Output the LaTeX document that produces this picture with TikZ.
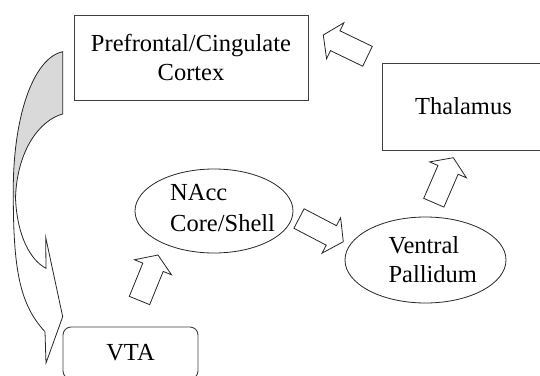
\documentclass[tikz,border=0pt]{standalone}
\usepackage{fontspec}
\setmainfont{Liberation Serif}
\usetikzlibrary{shapes.geometric,calc}

% block arrow from tail point to tip point
\newcommand{\blockarrow}[2]{%
  \coordinate (hb) at ($(#1)!0.73!(#2)$);
  \draw[blockarr] ($(#1)!11pt!90:(#2)$) -- ($(hb)!11pt!90:(#2)$) -- ($(hb)!20pt!90:(#2)$) -- (#2)
    -- ($(hb)!20pt!-90:(#2)$) -- ($(hb)!11pt!-90:(#2)$) -- ($(#1)!11pt!-90:(#2)$) -- cycle;}

\begin{document}
\begin{tikzpicture}[x=1pt,y=-1pt,
  region/.style={draw=black!75,line width=0.9pt,fill=white,align=center,font=\fontsize{24.5}{29}\selectfont},
  oval/.style={ellipse,draw=black!85,line width=0.8pt,fill=white},
  ovaltext/.style={align=left,inner sep=0pt,anchor=west,font=\fontsize{24.5}{29}\selectfont},
  blockarr/.style={draw=black!85,line width=0.8pt,fill=white,line join=miter},
  curvearr/.style={draw=black!85,line width=0.8pt}]
\useasboundingbox (0,0) rectangle (540,375);

% Regions
\node[region,minimum width=234,minimum height=85] (pfc) at (191,57.5) {Prefrontal/Cingulate\\Cortex};
\node[region,minimum width=163,minimum height=87] (thal) at (463.5,106.5) {Thalamus};
\node[region,rounded corners=8pt,minimum width=135,minimum height=52] (vta) at (130.5,353) {VTA};
\node[oval,minimum width=158,minimum height=84] (nacc) at (214,211) {};
\node[ovaltext,font=\fontsize{24.5}{31}\selectfont] (nacctext) at (170,208) {NAcc\\Core/Shell};
\node[oval,minimum width=161,minimum height=86] (vp) at (425.5,260) {};
\node[ovaltext] (vptext) at (388.3,259.2) {Ventral\\Pallidum};

% Block arrows (tail, tip)
\coordinate (a1s) at (139.5,300.5); \coordinate (a1e) at (158,255);
\coordinate (a2s) at (299,218.5);   \coordinate (a2e) at (343.3,241.7);
\coordinate (a3s) at (433.8,202.7); \coordinate (a3e) at (453.3,157.7);
\coordinate (a4s) at (367.5,56.3);  \coordinate (a4e) at (323.3,35);
\blockarrow{a1s}{a1e}
\blockarrow{a2s}{a2e}
\blockarrow{a3s}{a3e}
\blockarrow{a4s}{a4e}

% Curved arrow back to VTA
\fill[black!15] (62.7,51.7) .. controls (33,58) and (12,118) .. (13.3,198) -- (15.5,198)
  .. controls (17,150) and (40,120) .. (62.7,114) -- cycle;
\fill[white] (13.3,198) .. controls (13.5,270) and (20,305) .. (45,331.7) -- (46,363) -- (62.7,316.7)
  -- (45.7,237.3) -- (46,268.3) .. controls (30,260) and (17,235) .. (15.5,198) -- cycle;
\draw[curvearr] (62.7,51.7) .. controls (33,58) and (12,118) .. (13.3,198)
  .. controls (13.5,270) and (20,305) .. (45,331.7) -- (46,363) -- (62.7,316.7)
  -- (45.7,237.3) -- (46,268.3) .. controls (30,260) and (17,235) .. (15.5,198)
  .. controls (17,150) and (40,120) .. (62.7,114) -- cycle;

\end{tikzpicture}
\end{document}
